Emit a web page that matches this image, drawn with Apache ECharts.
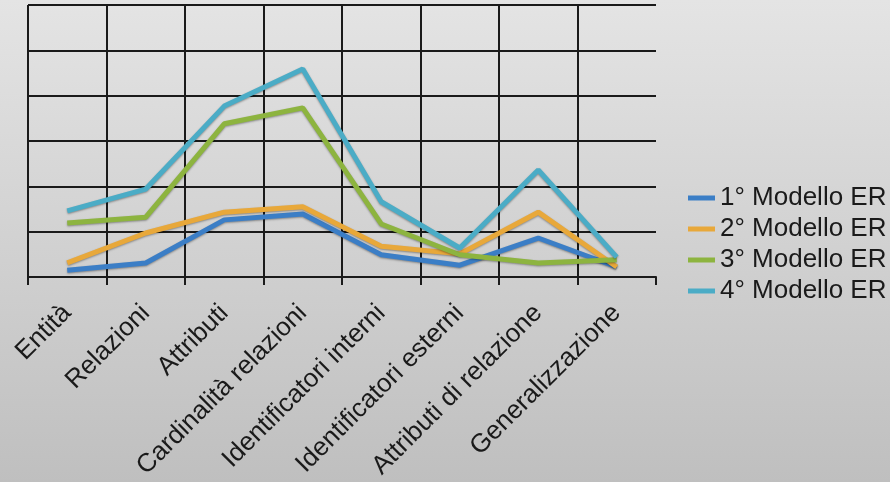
<!DOCTYPE html>
<html>
<head>
<meta charset="UTF-8">
<title>Modelli ER</title>
<style>
html, body { margin: 0; padding: 0; }
#picContainer { width: 890px; height: 482px; }
</style>
</head>
<body>
<div id="picContainer"></div>
<script src="https://cdn.jsdelivr.net/npm/echarts@6/dist/echarts.min.js"></script>
<script>
var categories = ['Entità', 'Relazioni', 'Attributi', 'Cardinalità relazioni',
    'Identificatori interni', 'Identificatori esterni', 'Attributi di relazione', 'Generalizzazione'];
var seriesNames = ['1° Modello ER', '2° Modello ER', '3° Modello ER', '4° Modello ER'];
var modello1 = [0.15, 0.31, 1.26, 1.39, 0.49, 0.26, 0.86, 0.22];
var modello2 = [0.31, 0.97, 1.43, 1.55, 0.68, 0.51, 1.43, 0.22];
var modello3 = [1.19, 1.32, 3.38, 3.73, 1.17, 0.49, 0.31, 0.38];
var modello4 = [1.46, 1.94, 3.77, 4.59, 1.66, 0.64, 2.36, 0.44];
var colors = ['#3b7ec6', '#e8a83a', '#8db43f', '#4bacc6'];

drawPic();

function drawPic() {
    var myChart = echarts.init(document.getElementById('picContainer'));
    var values = [modello1, modello2, modello3, modello4];
    var series = [];
    for (var i = 0; i < values.length; i++) {
        series.push({
            name: seriesNames[i],
            type: 'line',
            symbol: 'none',
            data: values[i],
            lineStyle: {
                color: colors[i],
                width: 5,
                shadowColor: 'rgba(0,0,0,0.35)',
                shadowBlur: 2,
                shadowOffsetY: 1
            },
            itemStyle: { color: colors[i] }
        });
    }
    var option = {
        animation: false,
        backgroundColor: new echarts.graphic.LinearGradient(0, 0, 0, 1, [
            { offset: 0, color: '#e4e4e4' },
            { offset: 1, color: '#bfbfbf' }
        ]),
        grid: { left: 28, right: 234, top: 5, bottom: 205 },
        legend: {
            orient: 'vertical',
            left: 683,
            top: 180,
            icon: 'rect',
            itemWidth: 27,
            itemHeight: 5,
            itemGap: 5,
            textStyle: { fontFamily: 'Liberation Sans', fontSize: 26, color: '#1a1a1a' },
            data: seriesNames
        },
        xAxis: {
            type: 'category',
            boundaryGap: true,
            data: categories,
            axisLine: { show: true, lineStyle: { color: '#1a1a1a', width: 2 } },
            axisTick: { show: true, length: 8, lineStyle: { color: '#1a1a1a', width: 2 } },
            splitLine: { show: true, showMaxLine: false, lineStyle: { color: '#1a1a1a', width: 2 } },
            axisLabel: {
                interval: 0,
                rotate: 45,
                margin: 32,
                fontFamily: 'Liberation Sans',
                fontSize: 26,
                color: '#1a1a1a'
            }
        },
        yAxis: {
            type: 'value',
            min: 0,
            max: 6,
            interval: 1,
            axisLine: { show: false },
            axisTick: { show: false },
            axisLabel: { show: false },
            splitLine: { show: true, lineStyle: { color: '#1a1a1a', width: 2 } }
        },
        series: series
    };
    myChart.setOption(option);
}
</script>
</body>
</html>
